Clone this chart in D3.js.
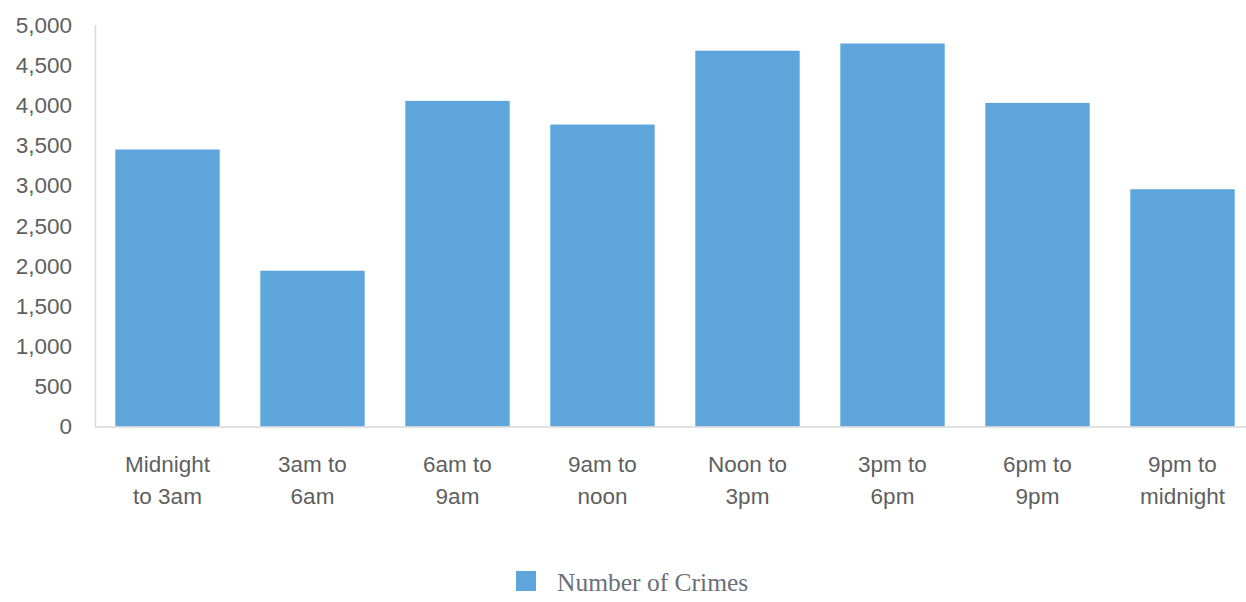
<!DOCTYPE html>
<html>
<head>
<meta charset="utf-8">
<script src="https://cdn.jsdelivr.net/npm/d3@7"></script>
<style>
  html, body { margin: 0; padding: 0; background: #ffffff; }
  svg { display: block; }
</style>
</head>
<body>
<svg id="chart" width="1246" height="602"></svg>
<script>
// Crimes by time of day
const categories = [
  ["Midnight", "to 3am"],
  ["3am to", "6am"],
  ["6am to", "9am"],
  ["9am to", "noon"],
  ["Noon to", "3pm"],
  ["3pm to", "6pm"],
  ["6pm to", "9pm"],
  ["9pm to", "midnight"]
];
const crimeCounts = [3450, 1940, 4055, 3760, 4680, 4770, 4030, 2955];
const yTicks = [0, 500, 1000, 1500, 2000, 2500, 3000, 3500, 4000, 4500, 5000];
const seriesName = "Number of Crimes";

const svg = d3.select("#chart");
const plotLeft = 95, plotRight = 1255, plotTop = 25, plotBottom = 426.5;
const barColor = "#5da5da";
const textColor = "#5f5f5f";
const labelSize = 22.5;

const x = d3.scaleBand()
  .domain(d3.range(categories.length))
  .range([plotLeft, plotRight])
  .paddingInner(0.28)
  .paddingOuter(0.14);

const y = d3.scaleLinear().domain([0, 5000]).range([plotBottom, plotTop]);

// y-axis labels
const fmt = d3.format(",");
svg.append("g")
  .selectAll("text")
  .data(yTicks)
  .join("text")
  .attr("x", 72)
  .attr("y", d => y(d))
  .attr("dy", "0.35em")
  .attr("text-anchor", "end")
  .attr("font-family", "Liberation Sans, Arial, sans-serif")
  .attr("font-size", labelSize)
  .attr("fill", textColor)
  .text(d => fmt(d));

// bars
svg.append("g")
  .selectAll("rect")
  .data(crimeCounts)
  .join("rect")
  .attr("x", (d, i) => x(i))
  .attr("width", x.bandwidth())
  .attr("y", d => y(d))
  .attr("height", d => y(0) - y(d))
  .attr("fill", barColor);

// axis lines
svg.append("line")
  .attr("x1", plotLeft + 0.5).attr("x2", plotLeft + 0.5)
  .attr("y1", plotTop).attr("y2", plotBottom + 0.5)
  .attr("stroke", "#d9d9d9").attr("stroke-width", 1.5);
svg.append("line")
  .attr("x1", plotLeft).attr("x2", 1246)
  .attr("y1", plotBottom + 0.5).attr("y2", plotBottom + 0.5)
  .attr("stroke", "#d9d9d9").attr("stroke-width", 1.5);

// category labels (two lines)
const labels = svg.append("g")
  .selectAll("text")
  .data(categories)
  .join("text")
  .attr("x", (d, i) => x(i) + x.bandwidth() / 2)
  .attr("y", 472)
  .attr("text-anchor", "middle")
  .attr("font-family", "Liberation Sans, Arial, sans-serif")
  .attr("font-size", labelSize)
  .attr("fill", textColor);
labels.each(function(d) {
  const t = d3.select(this);
  d.forEach((line, k) => {
    t.append("tspan")
      .attr("x", t.attr("x"))
      .attr("dy", k === 0 ? 0 : 32)
      .text(line);
  });
});

// legend
const legend = svg.append("g");
legend.append("rect")
  .attr("x", 516).attr("y", 571)
  .attr("width", 20).attr("height", 20)
  .attr("fill", barColor);
legend.append("text")
  .attr("x", 557).attr("y", 590.5)
  .attr("font-family", "Liberation Serif, Times New Roman, serif")
  .attr("font-size", 25.5)
  .attr("fill", "#6b7078")
  .text(seriesName);
</script>
</body>
</html>
